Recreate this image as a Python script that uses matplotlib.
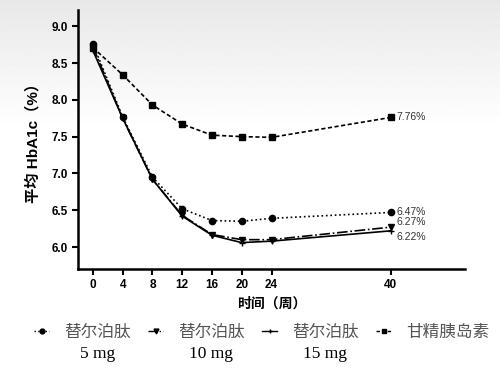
import numpy as np
import matplotlib.pyplot as plt
from matplotlib.lines import Line2D
from matplotlib.text import Annotation

plt.rcParams['font.family'] = ['Liberation Sans', 'Noto Sans CJK SC', 'DejaVu Sans']

# 数据
weeks = [0, 4, 8, 12, 16, 20, 24, 40]
tir_5 = [8.76, 7.77, 6.95, 6.52, 6.36, 6.35, 6.39, 6.47]
tir_10 = [8.72, 7.75, 6.92, 6.43, 6.17, 6.10, 6.10, 6.27]
tir_15 = [8.67, 7.75, 6.92, 6.42, 6.16, 6.06, 6.08, 6.22]
glargine = [8.71, 8.34, 7.93, 7.67, 7.52, 7.50, 7.49, 7.76]
end_labels = ["6.47%", "6.27%", "6.22%", "7.76%"]
yticks = [6.0, 6.5, 7.0, 7.5, 8.0, 8.5, 9.0]
leg_names = ["替尔泊肽", "替尔泊肽", "替尔泊肽", "甘精胰岛素"]
leg_doses = ["5 mg", "10 mg", "15 mg", ""]

fig = plt.figure(figsize=(5, 3.85), dpi=100)

# 背景渐变
bg = fig.add_axes([0, 0, 1, 1], zorder=-5)
grad = np.linspace(0.91, 1.0, 100)
grad = np.concatenate([grad, np.ones(200)])
bg.imshow(np.tile(grad[:, None], (1, 10)), cmap='gray', vmin=0, vmax=1,
          aspect='auto', extent=[0, 1, 0, 1], origin='upper')
bg.axis('off')

ax = fig.add_axes([0.156, 0.301, 0.774, 0.673])
ax.patch.set_alpha(0)

styles = [':', '-.', '-', (0, (2.5, 1.5))]
markers = ['o', 'v', '+', 's']
series = [tir_5, tir_10, tir_15, glargine]
for ys, ls, mk in zip(series, styles, markers):
    ax.plot(weeks, ys, ls=ls, marker=mk, color='black', markersize=4.5, lw=1.2)

# 末端数值
for ys, lab, dy in zip(series, end_labels, [0, 0.07, -0.08, 0]):
    ax.text(weeks[-1] + 0.8, ys[-1] + dy, lab, fontsize=7.5, va='center', color='#333333')

ax.set_xlim(-2, 50)
ax.set_ylim(5.7, 9.22)
ax.set_xticks(weeks)
ax.set_yticks(yticks)
ax.set_yticklabels([f"{v:.1f}" for v in yticks])
for s in ['top', 'right']:
    ax.spines[s].set_visible(False)
for s in ['left', 'bottom']:
    ax.spines[s].set_linewidth(1.8)
ax.tick_params(width=1.5, length=4, labelsize=8.5, pad=3)
for t in ax.get_xticklabels() + ax.get_yticklabels():
    t.set_fontweight('bold')

ax.set_ylabel("平均 HbA1c（%）", fontsize=11, fontweight='bold', labelpad=8)
ax.set_xlabel("时间（周）", fontsize=10, fontweight='bold', labelpad=4)

# 图例
handles = [Line2D([], [], color='black', ls=ls, marker=mk, markersize=3.5, lw=1)
           for ls, mk in zip(styles, markers)]
leg = fig.legend(handles, leg_names, loc='upper left', bbox_to_anchor=(0.055, 0.175),
                 ncol=4, frameon=False, fontsize=12, handlelength=0.9,
                 handletextpad=0.9, columnspacing=1.05, borderaxespad=0)
for t, dose in zip(leg.get_texts(), leg_doses):
    t.set_color('#555555')
    if dose:
        a = Annotation(dose, xy=(0.5, 0), xycoords=t, xytext=(0, -5),
                       textcoords='offset points', ha='center', va='top',
                       fontsize=12.5, family='Liberation Serif', color='black',
                       annotation_clip=False, zorder=10)
        fig.add_artist(a)

fig.savefig("out.png", dpi=100)
